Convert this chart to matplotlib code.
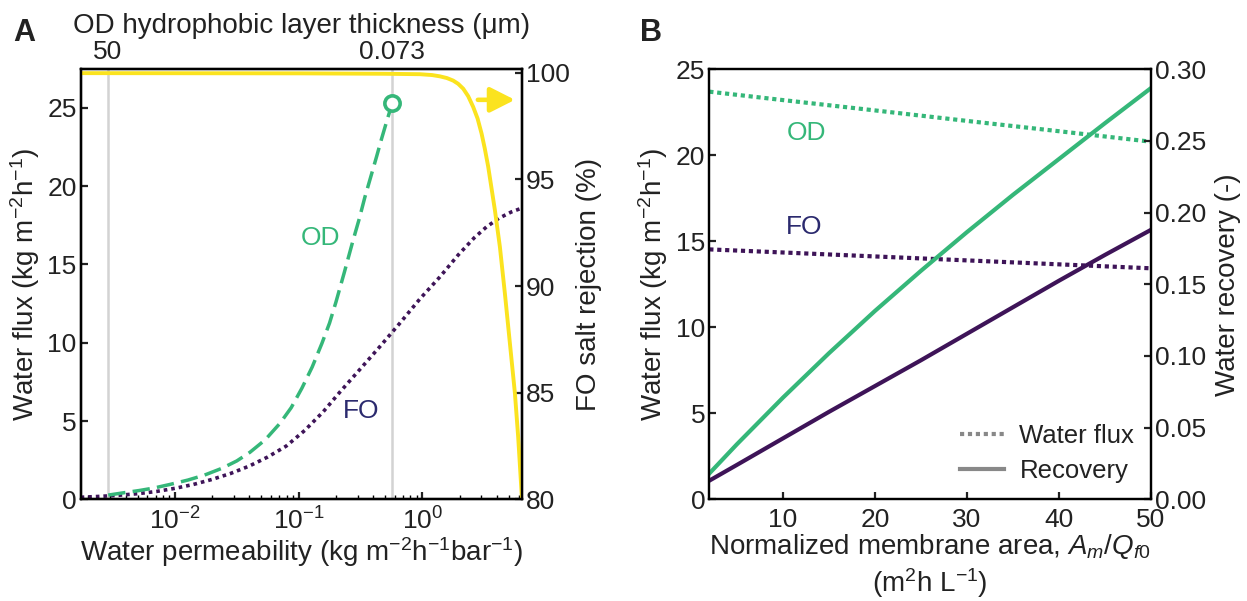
import matplotlib
matplotlib.use("Agg")
import matplotlib.pyplot as plt

plt.rcParams['font.family'] = ['Liberation Sans', 'DejaVu Sans']
plt.rcParams['mathtext.fontset'] = 'custom'
plt.rcParams['mathtext.rm'] = 'Liberation Sans'
plt.rcParams['mathtext.it'] = 'Liberation Sans:italic'
plt.rcParams['axes.linewidth'] = 1.6

GREEN = '#35b779'
PURPLE = '#3e1458'
YELLOW = '#fbe31f'
NAVY = '#2b2a6e'
LIGHT = '#d3d3d3'
INK = '#222222'

W, H = 1247, 601

# ---- panel A: flux vs. water permeability ----
od_perm = [0.00289, 0.003873, 0.005129, 0.006761, 0.00912, 0.01274, 0.01738,
           0.02399, 0.03162, 0.04037, 0.0537, 0.07063, 0.0871, 0.1064,
           0.1288, 0.1542, 0.1778, 0.2005, 0.2344, 0.2748, 0.309, 0.3436,
           0.3802, 0.4276, 0.4677, 0.514, 0.5715]
od_flux = [0.27, 0.42, 0.56, 0.72, 0.95, 1.23, 1.55, 1.98, 2.45, 3.0, 3.8,
           4.85, 5.85, 7.1, 8.45, 9.95, 11.25, 12.6, 14.5, 16.5, 17.9, 19.3,
           20.5, 21.9, 23.0, 24.1, 25.3]

fo_perm = [0.00173, 0.002512, 0.003548, 0.005012, 0.007079, 0.01, 0.01413,
           0.01995, 0.02818, 0.03981, 0.05623, 0.07943, 0.1122, 0.1585,
           0.2158, 0.3133, 0.4539, 0.6592, 0.9572, 1.387, 1.95, 2.63, 3.311,
           4.169, 5.248, 6.4]
fo_flux = [0.13, 0.19, 0.26, 0.36, 0.50, 0.70, 0.95, 1.27, 1.65, 2.12, 2.70,
           3.40, 4.40, 5.60, 6.85, 8.30, 9.75, 11.25, 12.8, 14.2, 15.6, 16.7,
           17.4, 17.95, 18.35, 18.6]

rej_perm = [0.00173, 0.1, 0.5, 0.957, 1.2, 1.387, 1.58, 1.778, 1.95, 2.143,
            2.35, 2.578, 2.8, 3.015, 3.2, 3.41, 3.864, 4.24, 4.653, 5.11,
            5.61, 5.96, 6.4]
rej_pct = [99.98, 99.97, 99.95, 99.93, 99.89, 99.83, 99.75, 99.63, 99.48,
           99.25, 98.9, 98.4, 97.85, 97.15, 96.45, 95.6, 93.56, 91.84, 89.66,
           87.31, 84.97, 82.93, 80.0]

od_point = (0.5715, 25.3)
thickness_pos = [0.00287, 0.569]
thickness_lab = ['50', '0.073']

# ---- panel B: flux and recovery vs. normalized area ----
area = [2, 10, 20, 30, 40, 50]
od_flux_b = [23.7, 23.21, 22.61, 22.0, 21.4, 20.79]
fo_flux_b = [14.53, 14.35, 14.12, 13.89, 13.66, 13.43]

area_rec = [2, 5, 10, 15, 20, 25, 30, 35, 40, 45, 50]
od_rec = [0.018, 0.0384, 0.0709, 0.1019, 0.1314, 0.1594, 0.1864, 0.2124,
          0.2374, 0.2624, 0.2869]
fo_rec = [0.013, 0.024, 0.0425, 0.061, 0.079, 0.097, 0.1155, 0.134, 0.1525,
          0.1705, 0.188]

fig = plt.figure(figsize=(W / 100, H / 100), dpi=100)
axA = fig.add_axes([0.0647, 0.1692, 0.3539, 0.7155])
axB = fig.add_axes([0.5688, 0.1692, 0.3542, 0.7155])

TICK = dict(direction='in', length=5, width=1.6, labelsize=19, colors=INK,
            pad=3)
LAB = dict(fontsize=20, color=INK)


def style_ticks(ax):
    ax.tick_params(which='major', **TICK)
    ax.tick_params(which='minor', direction='in', length=3, width=1.0)


def px_text(x, y, s, **kw):
    # place text by pixel position measured from the top-left corner
    fig.text(x / W, 1 - y / H, s, ha='center', va='center', **kw)


# panel A
axA.set_xscale('log')
axA.set_xlim(0.00173, 6.4)
axA.set_ylim(0, 27.46)
for p in thickness_pos:
    axA.axvline(p, color=LIGHT, lw=1.8, zorder=0)
axA.plot(fo_perm, fo_flux, color=PURPLE, lw=2.6, dashes=(1, 1.1))
axA.plot(od_perm, od_flux, color=GREEN, lw=2.5, dashes=(5, 2.1))
axA.plot(*od_point, 'o', ms=11, mfc='white', mec=GREEN, mew=2.6, zorder=5)
axA.set_yticks([0, 5, 10, 15, 20, 25])
axA.set_xticks([0.01, 0.1, 1])
style_ticks(axA)
axA.tick_params(axis='x', which='major', pad=6)
axA.set_xlabel('Water permeability (kg m$^{-2}$h$^{-1}$bar$^{-1}$)',
               labelpad=0, **LAB)
axA.set_ylabel('Water flux (kg m$^{-2}$h$^{-1}$)', labelpad=4, **LAB)

axA2 = axA.twinx()
axA2.plot(rej_perm, rej_pct, color=YELLOW, lw=2.8)
axA2.set_ylim(80, 100.16)
axA2.set_yticks([80, 85, 90, 95, 100])
style_ticks(axA2)
axA2.set_ylabel('FO salt rejection (%)', labelpad=4, **LAB)
axA2.annotate('', xy=(0.984, 0.929), xytext=(0.90, 0.929),
              xycoords='axes fraction',
              arrowprops=dict(arrowstyle='-|>,head_length=0.75,head_width=0.38',
                              mutation_scale=20, color=YELLOW, lw=3.3,
                              shrinkA=0, shrinkB=0))

axA3 = axA.twiny()
axA3.set_xscale('log')
axA3.set_xlim(axA.get_xlim())
axA3.set_xticks(thickness_pos)
axA3.set_xticklabels(thickness_lab)
axA3.minorticks_off()
axA3.tick_params(length=0, labelsize=19, colors=INK, pad=4)
axA3.set_xlabel('OD hydrophobic layer thickness (μm)', labelpad=5, **LAB)

# panel B
axB.set_xlim(2, 50)
axB.set_ylim(0, 25)
axB.plot(area, od_flux_b, color=GREEN, lw=3.0, dashes=(1, 0.9))
axB.plot(area, fo_flux_b, color=PURPLE, lw=3.0, dashes=(1, 0.9))
axB.set_xticks([10, 20, 30, 40, 50])
axB.set_yticks([0, 5, 10, 15, 20, 25])
style_ticks(axB)
axB.tick_params(axis='x', which='major', pad=6)
axB.set_xlabel('Normalized membrane area, $A_m/Q_{f0}$\n(m$^2$h L$^{-1}$)',
               labelpad=0, linespacing=1.2, **LAB)
axB.set_ylabel('Water flux (kg m$^{-2}$h$^{-1}$)', labelpad=4, **LAB)

axB2 = axB.twinx()
axB2.plot(area_rec, od_rec, color=GREEN, lw=3.0)
axB2.plot(area_rec, fo_rec, color=PURPLE, lw=3.0)
axB2.set_ylim(0, 0.30)
axB2.set_yticks([0, 0.05, 0.10, 0.15, 0.20, 0.25, 0.30])
axB2.set_yticklabels(['%.2f' % v for v in axB2.get_yticks()])
style_ticks(axB2)
axB2.set_ylabel('Water recovery (-)', labelpad=6, **LAB)
h1, = axB2.plot([], [], color='#888888', lw=3.0, dashes=(1, 0.9))
h2, = axB2.plot([], [], color='#888888', lw=3.0)
axB2.legend([h1, h2], ['Water flux', 'Recovery'], loc='lower right',
            frameon=False, fontsize=18.5, handlelength=1.7, handletextpad=0.6,
            labelspacing=0.4, borderaxespad=0.25, labelcolor=INK)

# curve labels and panel letters
px_text(320, 238, 'OD', fontsize=19, color=GREEN)
px_text(361, 411, 'FO', fontsize=19, color=NAVY)
px_text(806, 133, 'OD', fontsize=19, color=GREEN)
px_text(804, 227, 'FO', fontsize=19, color=NAVY)
px_text(24, 33, 'A', fontsize=22, fontweight='bold', color=INK)
px_text(651, 33, 'B', fontsize=22, fontweight='bold', color=INK)

fig.savefig('out.png', dpi=100)
